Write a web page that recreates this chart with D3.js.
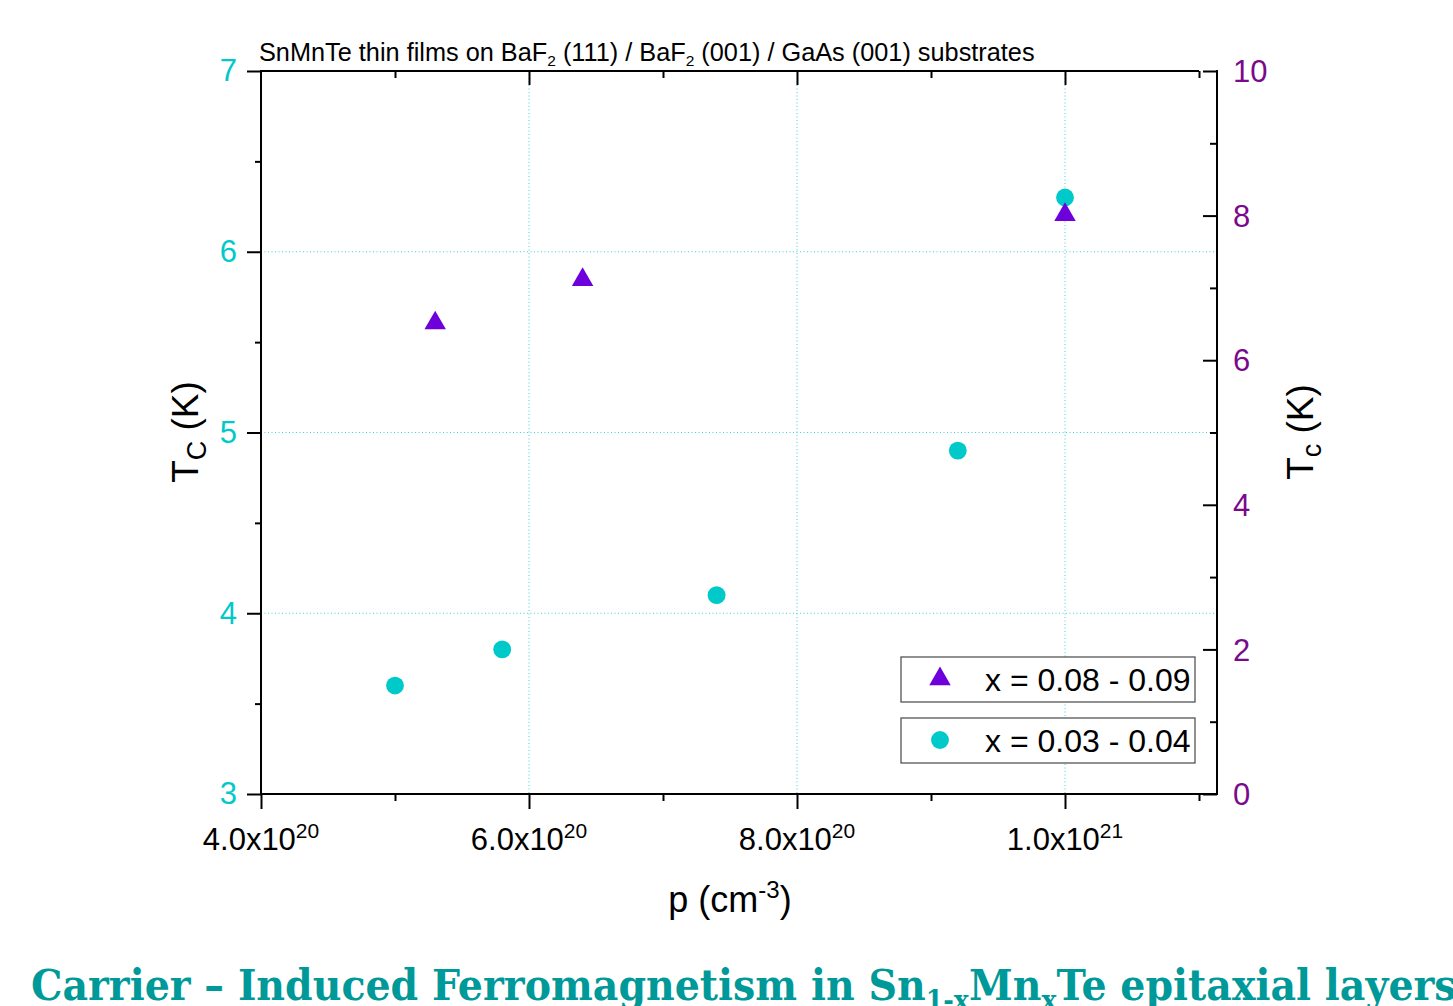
<!DOCTYPE html>
<html>
<head>
<meta charset="utf-8">
<script src="https://cdn.jsdelivr.net/npm/d3@7"></script>
<style>
  html, body { margin: 0; padding: 0; background: #fff; }
  svg { display: block; }
</style>
</head>
<body>
<svg id="chart" width="1453" height="1006"></svg>
<script>
// Hole concentration p (cm^-3) and Curie temperature Tc (K)
const seriesHighMn = { label: "x = 0.08 - 0.09" };
const highMnP  = [5.3e20, 6.4e20, 1.0e21];
const highMnTc = [6.54, 7.14, 8.04];          // read on the right Tc axis

const seriesLowMn = { label: "x = 0.03 - 0.04" };
const lowMnP  = [5.0e20, 5.8e20, 7.4e20, 9.2e20, 1.0e21];
const lowMnTc = [3.6, 3.8, 4.1, 4.9, 6.3];    // read on the left Tc axis

const xMajorTicks = [4e20, 6e20, 8e20, 1e21];
const xMinorTicks = [5e20, 7e20, 9e20, 1.1e21];
const xTickMantissa = ["4.0", "6.0", "8.0", "1.0"];
const xTickExponent = ["20", "20", "20", "21"];
const yLeftMajor = [3, 4, 5, 6, 7];
const yLeftMinor = [3.5, 4.5, 5.5, 6.5];
const yRightMajor = [0, 2, 4, 6, 8, 10];
const yRightMinor = [1, 3, 5, 7, 9];

const CYAN = "#00C9C9";
const PURPLE = "#6E00DC";
const AXIS_PURPLE = "#7A0A8C";
const GRID = "#3fd3d8";
const FONT = "Liberation Sans, Arial, sans-serif";

const svg = d3.select("#chart");

const plotLeft = 261, plotRight = 1199, plotTop = 71, plotBottom = 794, rightAxisX = 1217;
const x = d3.scaleLinear().domain([4e20, 1.1e21]).range([plotLeft, plotRight]);
const yL = d3.scaleLinear().domain([3, 7]).range([plotBottom, plotTop]);
const yR = d3.scaleLinear().domain([0, 10]).range([plotBottom, plotTop]);

// dotted grid at major ticks
const grid = svg.append("g").attr("stroke", GRID).attr("stroke-width", 1)
  .attr("stroke-dasharray", "1,2.5");
grid.selectAll("line.v").data(xMajorTicks.slice(1)).join("line")
  .attr("x1", d => x(d)).attr("x2", d => x(d))
  .attr("y1", plotTop).attr("y2", plotBottom);
grid.selectAll("line.h").data(yLeftMajor.slice(1, -1)).join("line")
  .attr("x1", plotLeft).attr("x2", rightAxisX)
  .attr("y1", d => yL(d)).attr("y2", d => yL(d));

const axisStyle = g => {
  g.select(".domain").remove();
  g.selectAll(".tick line").attr("stroke", "#000").attr("stroke-width", 2);
};

// bottom axis: major ticks with labels, minor ticks
svg.append("g").attr("transform", `translate(0,${plotBottom})`)
  .call(d3.axisBottom(x).tickValues(xMajorTicks).tickSize(15).tickFormat(""))
  .call(axisStyle);
svg.append("g").attr("transform", `translate(0,${plotBottom})`)
  .call(d3.axisBottom(x).tickValues(xMinorTicks).tickSize(7).tickFormat(""))
  .call(axisStyle);
const xLabels = svg.append("g").attr("font-family", FONT).attr("font-size", 31)
  .attr("fill", "#000");
xMajorTicks.forEach((v, i) => {
  const t = xLabels.append("text").attr("x", x(v)).attr("y", 850)
    .attr("text-anchor", "middle");
  t.append("tspan").text(xTickMantissa[i] + "x10");
  t.append("tspan").attr("dy", -12).attr("font-size", 21).text(xTickExponent[i]);
});

// top axis: inward ticks
svg.append("g").attr("transform", `translate(0,${plotTop})`)
  .call(d3.axisBottom(x).tickValues(xMajorTicks.slice(1)).tickSize(14).tickFormat(""))
  .call(axisStyle);
svg.append("g").attr("transform", `translate(0,${plotTop})`)
  .call(d3.axisBottom(x).tickValues(xMinorTicks).tickSize(7).tickFormat(""))
  .call(axisStyle);

// left axis (Tc, cyan labels)
svg.append("g").attr("transform", `translate(${plotLeft},0)`)
  .call(d3.axisLeft(yL).tickValues(yLeftMajor).tickSize(14).tickPadding(10)
    .tickFormat(d3.format("d")))
  .call(axisStyle)
  .call(g => g.selectAll(".tick text").attr("fill", CYAN)
    .attr("font-family", FONT).attr("font-size", 31));
svg.append("g").attr("transform", `translate(${plotLeft},0)`)
  .call(d3.axisLeft(yL).tickValues(yLeftMinor).tickSize(6).tickFormat(""))
  .call(axisStyle);

// right axis (Tc, purple labels), ticks pointing inward
svg.append("g").attr("transform", `translate(${rightAxisX},0)`)
  .call(d3.axisLeft(yR).tickValues(yRightMajor).tickSize(14).tickFormat(""))
  .call(axisStyle);
svg.append("g").attr("transform", `translate(${rightAxisX},0)`)
  .call(d3.axisLeft(yR).tickValues(yRightMinor).tickSize(7).tickFormat(""))
  .call(axisStyle);
svg.append("g").attr("font-family", FONT).attr("font-size", 31).attr("fill", AXIS_PURPLE)
  .selectAll("text").data(yRightMajor).join("text")
  .attr("x", 1233).attr("y", d => yR(d)).attr("dy", "0.36em").text(d => d);

// frame lines
const frame = svg.append("g").attr("stroke", "#000").attr("stroke-width", 2).attr("fill", "none");
frame.append("line").attr("x1", plotLeft).attr("x2", plotLeft).attr("y1", plotTop - 1).attr("y2", plotBottom + 1);
frame.append("line").attr("x1", plotLeft).attr("x2", rightAxisX + 1).attr("y1", plotBottom).attr("y2", plotBottom);
frame.append("line").attr("x1", plotLeft).attr("x2", plotRight).attr("y1", plotTop).attr("y2", plotTop);
frame.append("line").attr("x1", rightAxisX).attr("x2", rightAxisX).attr("y1", plotTop - 1).attr("y2", plotBottom + 1);

// data marks
const tri = d3.symbol().type(d3.symbolTriangle).size(200);
const circ = d3.symbol().type(d3.symbolCircle).size(250);
svg.append("g").selectAll("path").data(lowMnP.map((p, i) => [p, lowMnTc[i]])).join("path")
  .attr("d", circ).attr("fill", CYAN)
  .attr("transform", d => `translate(${x(d[0])},${yL(d[1])})`);
svg.append("g").selectAll("path").data(highMnP.map((p, i) => [p, highMnTc[i]])).join("path")
  .attr("d", tri).attr("fill", PURPLE)
  .attr("transform", d => `translate(${x(d[0])},${yR(d[1]) + 2})`);

// legend
const legend = svg.append("g").attr("font-family", FONT).attr("font-size", 32);
[[seriesHighMn, tri, PURPLE, 657], [seriesLowMn, circ, CYAN, 718]].forEach(([s, sym, col, y0]) => {
  legend.append("rect").attr("x", 901).attr("y", y0).attr("width", 294).attr("height", 45)
    .attr("fill", "#fff").attr("stroke", "#555").attr("stroke-width", 1.3);
  legend.append("path").attr("d", sym).attr("fill", col)
    .attr("transform", `translate(940,${y0 + 22})`);
  legend.append("text").attr("x", 985).attr("y", y0 + 34).text(s.label);
});

// chart title
const title = svg.append("text").attr("x", 259).attr("y", 61)
  .attr("font-family", FONT).attr("font-size", 25.3).attr("fill", "#000");
title.append("tspan").text("SnMnTe thin films on BaF");
title.append("tspan").attr("dy", 5).attr("font-size", 15.5).text("2");
title.append("tspan").attr("dy", -5).text(" (111) / BaF");
title.append("tspan").attr("dy", 5).attr("font-size", 15.5).text("2");
title.append("tspan").attr("dy", -5).text(" (001) / GaAs (001) substrates");

// axis titles
const xt = svg.append("text").attr("x", 730).attr("y", 912).attr("text-anchor", "middle")
  .attr("font-family", FONT).attr("font-size", 36);
xt.append("tspan").text("p (cm");
xt.append("tspan").attr("dy", -14).attr("font-size", 24).text("-3");
xt.append("tspan").attr("dy", 14).text(")");

const ylt = svg.append("text").attr("transform", "translate(198,432) rotate(-90)")
  .attr("text-anchor", "middle").attr("font-family", FONT).attr("font-size", 37);
ylt.append("tspan").text("T");
ylt.append("tspan").attr("dy", 8).attr("font-size", 27).text("C");
ylt.append("tspan").attr("dy", -8).text(" (K)");

const yrt = svg.append("text").attr("transform", "translate(1313,432) rotate(-90)")
  .attr("text-anchor", "middle").attr("font-family", FONT).attr("font-size", 37);
yrt.append("tspan").text("T");
yrt.append("tspan").attr("dy", 8).attr("font-size", 27).text("c");
yrt.append("tspan").attr("dy", -8).text(" (K)");

// caption below the chart
const cap = svg.append("text").attr("x", 0).attr("y", 0)
  .attr("font-family", "DejaVu Serif, Liberation Serif, serif").attr("font-weight", "bold")
  .attr("font-size", 42).attr("fill", "#009999");
cap.append("tspan").text("Carrier \u2013 Induced Ferromagnetism in Sn");
cap.append("tspan").attr("dy", 10).attr("font-size", 27).text("1-x");
cap.append("tspan").attr("dy", -10).text("Mn");
cap.append("tspan").attr("dy", 10).attr("font-size", 27).text("x");
cap.append("tspan").attr("dy", -10).text("Te epitaxial layers");
const capW = cap.node().getComputedTextLength();
cap.attr("transform", `translate(31,1000) scale(${1426 / capW},1)`);
</script>
</body>
</html>
